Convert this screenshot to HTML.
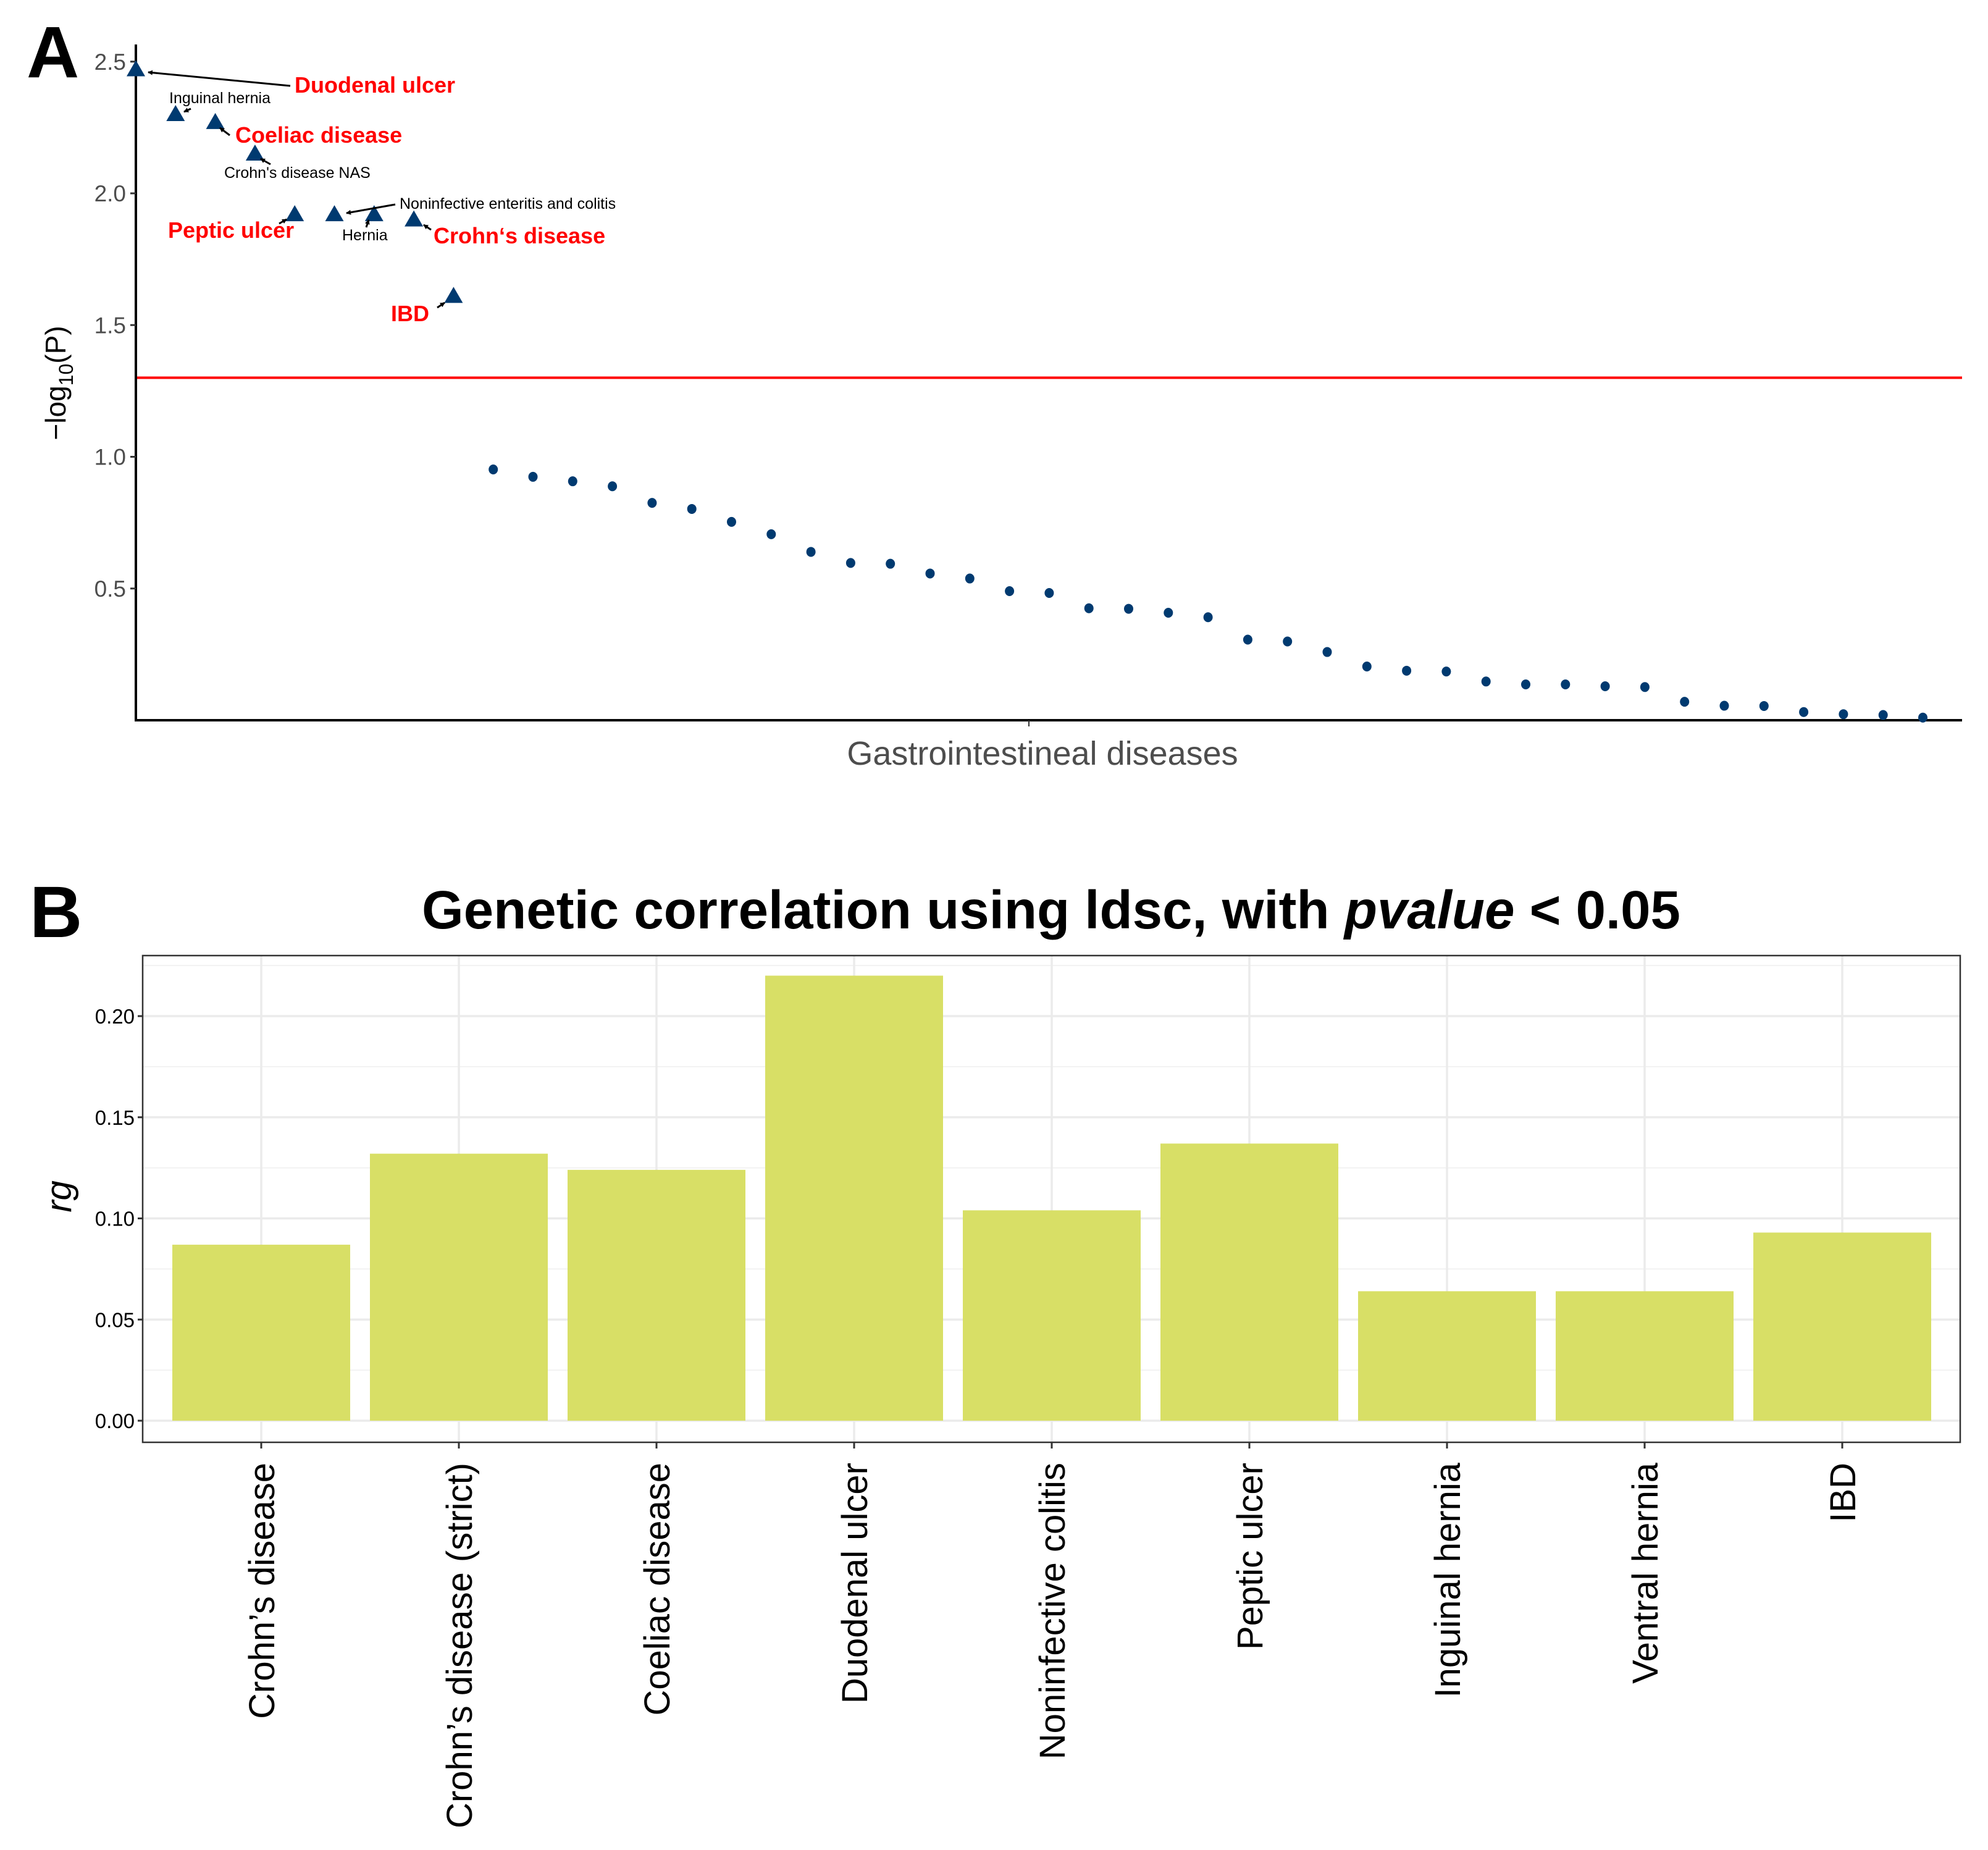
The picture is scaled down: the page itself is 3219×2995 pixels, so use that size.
<!DOCTYPE html>
<html><head><meta charset="utf-8"><style>
html,body{margin:0;padding:0;background:#fff;}
svg{display:block;font-family:"Liberation Sans",Arial,sans-serif;}
</style></head><body>
<svg id="fig" width="3219" height="2995" viewBox="0 0 3219 2995" xmlns="http://www.w3.org/2000/svg">
<text x="43" y="125" font-size="118" font-weight="bold">A</text>
<text x="48" y="1517" font-size="118" font-weight="bold">B</text>
<g id="pa"></g>
<g id="pb"></g>
</svg>
<script>
// Panel A data
const aSigValues = [2.47, 2.30, 2.27, 2.15, 1.92, 1.92, 1.92, 1.90, 1.61];
const aNonSigValues = [0.952,0.924,0.907,0.888,0.825,0.802,0.753,0.706,0.639,0.597,0.594,0.557,0.538,0.490,0.483,0.425,0.423,0.408,0.391,0.306,0.299,0.259,0.204,0.188,0.185,0.147,0.136,0.136,0.129,0.126,0.070,0.055,0.054,0.031,0.023,0.020,0.010];
const aYTicks = [0.5, 1.0, 1.5, 2.0, 2.5];
const aThreshold = 1.30;
// Panel B data
const bCategories = ["Crohn’s disease","Crohn’s disease (strict)","Coeliac disease","Duodenal ulcer","Noninfective colitis","Peptic ulcer","Inguinal hernia","Ventral hernia","IBD"];
const bValues = [0.087, 0.132, 0.124, 0.220, 0.104, 0.137, 0.064, 0.064, 0.093];
const bYTicks = [0.00, 0.05, 0.10, 0.15, 0.20];
const bYTickLabels = ["0.00","0.05","0.10","0.15","0.20"];

const NS="http://www.w3.org/2000/svg";
function mk(parent, tag, attrs, txt){const e=document.createElementNS(NS,tag);for(const k in attrs)e.setAttribute(k,attrs[k]);if(txt!==undefined)e.textContent=txt;parent.appendChild(e);return e;}

// ---- Panel A ----
const pa=document.getElementById('pa');
const axL=220, axR=3177, y0=1166, pxPerUnit=426.5, xStep=64.3;
const ax=i=>axL+i*xStep;
const ay=v=>y0-v*pxPerUnit;
let th=mk(pa,'line',{x1:axL,x2:axR,y1:ay(aThreshold),y2:ay(aThreshold),stroke:'#ff0000','stroke-width':4});


let yl=mk(pa,'line',{x1:axL,x2:axL,y1:72,y2:y0+2,stroke:'#000','stroke-width':4});


let xl=mk(pa,'line',{x1:axL-2,x2:axR,y1:y0,y2:y0,stroke:'#000','stroke-width':4});


let xt=mk(pa,'line',{x1:1666,x2:1666,y1:y0,y2:y0+10,stroke:'#333','stroke-width':2});


aYTicks.forEach(v=>{
  let t=mk(pa,'line',{x1:axL-9,x2:axL,y1:ay(v),y2:ay(v),stroke:'#333','stroke-width':3});
  
  
  let l=mk(pa,'text',{x:axL-16,y:ay(v)+13,'text-anchor':'end','font-size':37,fill:'#4d4d4d'},v.toFixed(1));
  
  
});
let xtitle=mk(pa,'text',{x:1688,y:1238,'text-anchor':'middle','font-size':54,fill:'#4d4d4d'},'Gastrointestineal diseases');


let ytitle=mk(pa,'text',{transform:'translate(106,620) rotate(-90)','text-anchor':'middle','font-size':46,fill:'#000'});


ytitle.innerHTML='−log<tspan font-size="32" dy="12">10</tspan><tspan dy="-12">(P)</tspan>';
aSigValues.forEach((v,i)=>{
  const cx=ax(i), cy=ay(v);
  let p=mk(pa,'polygon',{points:`${cx},${cy-15} ${cx-15},${cy+11} ${cx+15},${cy+11}`,fill:'#003a70'});
  
  
});
aNonSigValues.forEach((v,i)=>{
  let c=mk(pa,'ellipse',{cx:ax(i+aSigValues.length),cy:ay(v),rx:7.5,ry:8,fill:'#003a70'});
  
  
});
const anns=[
 ['Duodenal ulcer',477,150,36,true,[470,139,240,117]],
 ['Inguinal hernia',274,167,25,false,[309,176,298,181]],
 ['Coeliac disease',381,231,36,true,[372,219,356,207]],
 ["Crohn's disease NAS",363,288,25,false,[438,266,422,257]],
 ['Noninfective enteritis and colitis',647,338,25,false,[640,331,561,345]],
 ['Peptic ulcer',272,385,36,true,[452,362,464,355]],
 ['Hernia',554,389,25,false,[593,368,597,356]],
 ['Crohn‘s disease',702,394,36,true,[698,372,686,364]],
 ['IBD',633,520,36,true,[708,498,720,490]]
];
const defs=mk(document.getElementById('fig'),'defs',{});
const mkr=mk(defs,'marker',{id:'ah',markerWidth:8,markerHeight:8,refX:7,refY:4,orient:'auto',markerUnits:'userSpaceOnUse'});
mk(mkr,'path',{d:'M0,0 L8,4 L0,8 z',fill:'#000'});
anns.forEach(a=>{
  let t=mk(pa,'text',{x:a[1],y:a[2],'font-size':a[3],'font-weight':a[4]?'bold':'normal',fill:a[4]?'#ff0000':'#000'},a[0]);
  
  
  const s=a[5];
  let l=mk(pa,'line',{x1:s[0],y1:s[1],x2:s[2],y2:s[3],stroke:'#000','stroke-width':3,'marker-end':'url(#ah)'});
  
  
});

// ---- Panel B ----
const pb=document.getElementById('pb');
const bL=231, bR=3174, bT=1547, bB=2335, bZero=2300, bPxPerUnit=3275, bStep=320;
const bx=i=>bL+192+i*bStep;
const by=v=>bZero-v*bPxPerUnit;
let title=mk(pb,'text',{x:1702,y:1503,'text-anchor':'middle','font-size':87,'font-weight':'bold'});


title.innerHTML='Genetic correlation using ldsc, with <tspan font-style="italic">pvalue</tspan> &lt; 0.05';
for(let v=0.025; v<0.23; v+=0.05){
  let g=mk(pb,'line',{x1:bL,x2:bR,y1:by(v),y2:by(v),stroke:'#f2f2f2','stroke-width':2});
  
  
}
bYTicks.forEach((v,i)=>{
  let g=mk(pb,'line',{x1:bL,x2:bR,y1:by(v),y2:by(v),stroke:'#ebebeb','stroke-width':3.5});
  
  
  let t=mk(pb,'line',{x1:bL-8,x2:bL,y1:by(v),y2:by(v),stroke:'#333','stroke-width':3});
  
  
  let l=mk(pb,'text',{x:bL-13,y:by(v)+12,'text-anchor':'end','font-size':33,fill:'#000'},bYTickLabels[i]);
  
  
});
bCategories.forEach((c,i)=>{
  let g=mk(pb,'line',{x1:bx(i),x2:bx(i),y1:bT,y2:bB,stroke:'#ebebeb','stroke-width':3.5});
  
  
});
bValues.forEach((v,i)=>{
  let r=mk(pb,'rect',{x:bx(i)-144,y:by(v),width:288,height:bZero-by(v),fill:'#d8df66'});
  
  
});
let box=mk(pb,'rect',{x:bL,y:bT,width:bR-bL,height:bB-bT,fill:'none',stroke:'#333','stroke-width':2.5});


bCategories.forEach((c,i)=>{
  let t=mk(pb,'line',{x1:bx(i),x2:bx(i),y1:bB,y2:bB+10,stroke:'#333','stroke-width':3});
  
  
  let l=mk(pb,'text',{transform:`translate(${bx(i)+21},2368) rotate(-90)`,'text-anchor':'end','font-size':58,fill:'#000'},c);
  
  
});
let yt=mk(pb,'text',{transform:'translate(115,1937) rotate(-90)','text-anchor':'middle','font-size':58,'font-style':'italic'},'rg');


</script>
</body></html>
